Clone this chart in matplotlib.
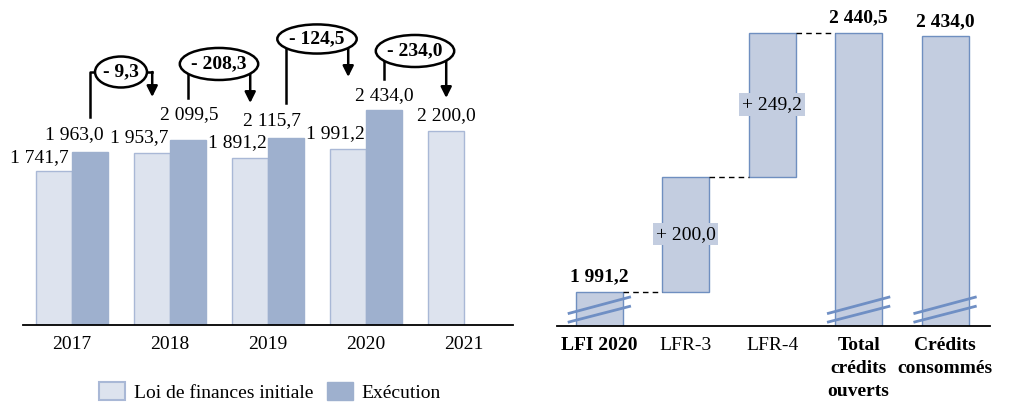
import matplotlib.pyplot as plt
from matplotlib.patches import Ellipse, Patch

plt.rcParams["font.family"] = ["Liberation Serif", "DejaVu Serif"]
plt.rcParams["font.size"] = 14

# left chart data
years = ["2017", "2018", "2019", "2020", "2021"]
lfi = [1741.7, 1953.7, 1891.2, 1991.2, 2200.0]
execution = [1963.0, 2099.5, 2115.7, 2434.0]

# right chart data (waterfall 2020)
wf_cats = ["LFI 2020", "LFR-3", "LFR-4", "Total\ncrédits\nouverts", "Crédits\nconsommés"]
lfi_2020 = 1991.2
lfr = [200.0, 249.2]
total_ouverts = 2440.5
consommes = 2434.0

c_light = "#dde3ee"
c_light_edge = "#a9b8d6"
c_dark = "#9eb0ce"
c_wf = "#c3cde0"
c_wf_edge = "#6f8fc0"

fig = plt.figure(figsize=(10.09, 4.15), dpi=100)

# ---------------- left: LFI vs execution ----------------
ax = fig.add_axes([23 / 1009, 90 / 415, 490 / 1009, 320 / 415])
w = 0.363
xs = list(range(len(years)))
ax.bar([x - w / 2 for x in xs], lfi, w, color=c_light, edgecolor=c_light_edge, lw=1)
ax.bar([x + w / 2 for x in xs[:len(execution)]], execution, w, color=c_dark, edgecolor=c_dark, lw=1)
ax.set_xlim(-0.5, 4.5)
ax.set_ylim(0, 3625)
ax.set_xticks(xs)
ax.set_xticklabels(years)
ax.tick_params(axis="x", length=0, pad=8)
ax.set_yticks([])
for s in ["left", "right", "top"]:
    ax.spines[s].set_visible(False)
ax.spines["bottom"].set_linewidth(1.3)

# label offsets in pixels (dx, dy) from bar top
lfi_off = [(-15, 14), (-13, 15), (-13, 15), (-13, 16), (0, 15)]
exe_off = [(-15, 17), (1, 25), (-14, 18), (1, 15)]
fmt = lambda v: f"{v:,.1f}".replace(",", " ").replace(".", ",")
for i, v in enumerate(lfi):
    ax.annotate(fmt(v), (i - w / 2, v), xytext=lfi_off[i], textcoords="offset pixels",
                ha="center", va="center")
for i, v in enumerate(execution):
    ax.annotate(fmt(v), (i + w / 2, v), xytext=exe_off[i], textcoords="offset pixels",
                ha="center", va="center")

# brackets: (start y, ellipse centre y, arrow tip y, ellipse width, ellipse height)
brackets = [(2357, 2866, 2583, 0.53, 351),
            (2572, 2957, 2515, 0.80, 363),
            (2515, 3240, 2810, 0.81, 330),
            (2787, 3104, 2572, 0.80, 363)]
for i, (y0, yc, ytip, ew, eh) in enumerate(brackets):
    xa = i + w / 2
    xb = i + 1 - w / 2
    diff = lfi[i + 1] - execution[i]
    ax.plot([xa, xa, xb], [y0, yc, yc], color="black", lw=1.8, clip_on=False, zorder=4)
    ax.annotate("", xy=(xb, ytip), xytext=(xb, yc),
                arrowprops=dict(arrowstyle="-|>", color="black", lw=1.8,
                                mutation_scale=16, shrinkA=0, shrinkB=0),
                zorder=4, annotation_clip=False)
    ax.add_patch(Ellipse(((xa + xb) / 2, yc), ew, eh, facecolor="white",
                         edgecolor="black", lw=1.8, zorder=5, clip_on=False))
    ax.text((xa + xb) / 2, yc, "- " + fmt(abs(diff)), ha="center", va="center",
            fontweight="bold", zorder=6)

fig.legend(handles=[Patch(facecolor=c_light, edgecolor=c_light_edge, lw=1.5, label="Loi de finances initiale"),
                    Patch(facecolor=c_dark, edgecolor=c_dark, label="Exécution")],
           loc="center", bbox_to_anchor=(270 / 1009, 1 - 392 / 415), ncol=2, frameon=False,
           handlelength=1.35, handleheight=1.05, handletextpad=0.45, columnspacing=0.7)

# ---------------- right: waterfall ----------------
ax2 = fig.add_axes([557 / 1009, 89 / 415, 433 / 1009, 321 / 415])
base = 1932
bw = 0.545
bottoms = [base, lfi_2020, lfi_2020 + lfr[0], base, base]
heights = [lfi_2020 - base, lfr[0], lfr[1], total_ouverts - base, consommes - base]
ax2.bar(range(5), heights, bw, bottom=bottoms, color=c_wf, edgecolor=c_wf_edge, lw=1)
ax2.set_xlim(-0.49, 4.52)
ax2.set_ylim(base, base + 321 * 1.734)
ax2.set_xticks(range(5))
ax2.set_xticklabels(wf_cats, linespacing=1.45, va="top")
for lbl, b in zip(ax2.get_xticklabels(), [True, False, False, True, True]):
    if b:
        lbl.set_fontweight("bold")
ax2.tick_params(axis="x", length=0, pad=8)
ax2.set_yticks([])
for s in ["left", "right", "top"]:
    ax2.spines[s].set_visible(False)
ax2.spines["bottom"].set_linewidth(1.3)

# dashed connectors
step_tops = [lfi_2020, lfi_2020 + lfr[0], total_ouverts]
for i, t in enumerate(step_tops):
    ax2.plot([i + bw / 2, i + 1 - bw / 2], [t, t], color="black", lw=1, ls=(0, (4, 3)))

# axis-break marks
for i in [0, 3, 4]:
    for y1, y2 in [(22, 50), (7, 34)]:
        ax2.plot([i - 0.35, i + 0.35], [base + y1, base + y2], color="#6f8fc4", lw=2, zorder=4)

for i, v in [(0, lfi_2020), (3, total_ouverts), (4, consommes)]:
    ax2.annotate(fmt(v), (i, v), xytext=(0, 15), textcoords="offset pixels",
                 ha="center", va="center", fontweight="bold")
for k, d in enumerate(lfr):
    i = k + 1
    ax2.text(i, bottoms[i] + d / 2, "+ " + fmt(d), ha="center", va="center",
             bbox=dict(facecolor=c_wf, edgecolor="none", pad=2))

fig.savefig("out.png", dpi=100)
